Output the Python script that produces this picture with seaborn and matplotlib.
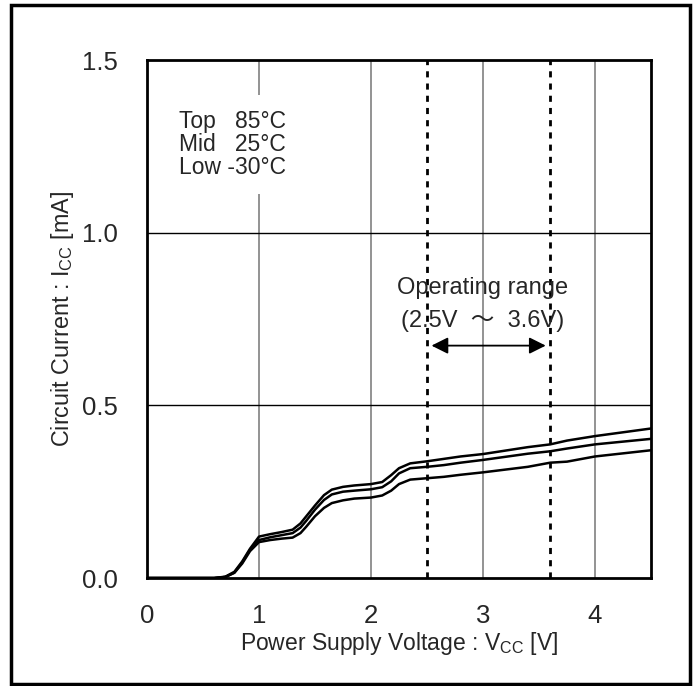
import pandas as pd
import seaborn as sns
import matplotlib.pyplot as plt
from matplotlib.patches import Rectangle

# supply voltage [V] and circuit current [mA] for the three temperatures
vcc = [0, 0.6, 0.7, 0.78, 0.85, 0.92, 1.0, 1.1, 1.2, 1.3, 1.37, 1.42, 1.5, 1.58,
       1.65, 1.75, 1.85, 2.0, 2.1, 2.18, 2.25, 2.35, 2.5, 2.65, 2.8, 3.0, 3.2,
       3.4, 3.6, 3.75, 4.0, 4.25, 4.5]
icc_85 = [0, 0, 0.004, 0.018, 0.048, 0.085, 0.12, 0.127, 0.133, 0.14, 0.158,
          0.178, 0.21, 0.24, 0.256, 0.264, 0.268, 0.272, 0.278, 0.298, 0.318,
          0.332, 0.338, 0.345, 0.352, 0.359, 0.369, 0.379, 0.387, 0.398, 0.411,
          0.422, 0.433]
icc_25 = [0, 0, 0.003, 0.016, 0.045, 0.082, 0.11, 0.118, 0.124, 0.13, 0.146,
          0.165, 0.198, 0.226, 0.242, 0.25, 0.253, 0.257, 0.263, 0.28, 0.303,
          0.318, 0.322, 0.327, 0.334, 0.342, 0.351, 0.36, 0.367, 0.375, 0.387,
          0.395, 0.403]
icc_m30 = [0, 0, 0.003, 0.015, 0.042, 0.078, 0.104, 0.11, 0.114, 0.117, 0.13,
           0.148, 0.179, 0.203, 0.217, 0.225, 0.23, 0.233, 0.239, 0.253, 0.272,
           0.285, 0.289, 0.293, 0.299, 0.306, 0.314, 0.322, 0.334, 0.337, 0.352,
           0.361, 0.37]
temps = ["85°C", "25°C", "-30°C"]

rows = []
for t, vals in zip(temps, [icc_85, icc_25, icc_m30]):
    for v, i in zip(vcc, vals):
        rows.append({"vcc": v, "icc": i, "temp": t})
df = pd.DataFrame(rows)

sns.set_style("white")
plt.rcParams['font.family'] = ['Liberation Sans', 'Noto Sans CJK JP', 'DejaVu Sans']
plt.rcParams['mathtext.fontset'] = 'custom'
plt.rcParams['mathtext.rm'] = 'Liberation Sans'
plt.rcParams['mathtext.it'] = 'Liberation Sans'

fig = plt.figure(figsize=(6.98, 6.86), dpi=100)
ax = fig.add_axes([0.2106, 0.1574, 0.7221, 0.7551])

# grid
for xv in [1, 2, 3, 4]:
    ax.axvline(xv, color='#808080', lw=1.2, zorder=1)
for yv in [0.5, 1.0]:
    ax.axhline(yv, color='black', lw=1.0, zorder=1)

# operating range limits
ax.axvline(2.5, color='black', lw=2, ls=(0, (2.2, 2.2)), zorder=2)
ax.axvline(3.6, color='black', lw=2, ls=(0, (2.2, 2.2)), zorder=2)

sns.lineplot(data=df, x="vcc", y="icc", hue="temp", palette=['black'] * 3,
             estimator=None, legend=False, lw=1.8, ax=ax, zorder=3)

ax.set_xlim(0, 4.5)
ax.set_ylim(0, 1.5)
ax.set_xticks([0, 1, 2, 3, 4])
ax.set_yticks([0, 0.5, 1.0, 1.5])
ax.set_yticklabels(["0.0", "0.5", "1.0", "1.5"])
ax.tick_params(axis='both', length=0, labelsize=18.5)
ax.tick_params(axis='y', pad=21)
ax.tick_params(axis='x', pad=19)
for s in ax.spines.values():
    s.set_color('black')
    s.set_linewidth(2)
    s.set_zorder(5)

ax.set_xlabel("Power Supply Voltage : V$_{\\mathrm{CC}}$ [V]", fontsize=16.5, labelpad=1)
ax.set_ylabel("Circuit Current : I$_{\\mathrm{CC}}$ [mA]", fontsize=16.8, labelpad=4)

ax.text(0.76, 1.255, "Top   85°C\nMid   25°C\nLow -30°C", ha='center', va='center',
        multialignment='center', fontsize=16.5, linespacing=1.0, zorder=4,
        bbox=dict(fc='white', ec='none', pad=11))

ax.text(3.0, 0.84, "Operating range", ha='center', va='center', fontsize=17, zorder=4)
ax.text(3.0, 0.745, "(2.5V  ～  3.6V)", ha='center', va='center', fontsize=17, zorder=4)
ax.annotate('', xy=(2.54, 0.673), xytext=(3.56, 0.673),
            arrowprops=dict(arrowstyle='<|-|>', color='black', lw=1.3,
                            mutation_scale=25, shrinkA=0, shrinkB=0), zorder=4)

# outer frame of the whole figure
fig.add_artist(Rectangle((0.0158, 0.003), 0.9727, 0.9897, transform=fig.transFigure,
                         fill=False, ec='black', lw=2.5))

fig.savefig("out.png", dpi=100)
